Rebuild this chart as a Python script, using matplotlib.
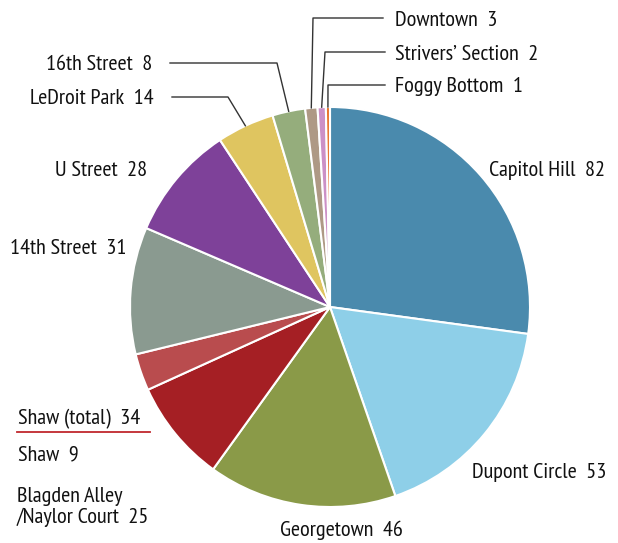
import numpy as np
import matplotlib
matplotlib.use("Agg")
from matplotlib import pyplot as plt

plt.rcParams['font.family'] = ['PT Sans Narrow', 'DejaVu Sans']

# data, clockwise from 12 o'clock
names = ["Capitol Hill", "Dupont Circle", "Georgetown", "Blagden Alley\n/Naylor Court", "Shaw",
         "14th Street", "U Street", "LeDroit Park", "16th Street", "Downtown",
         "Strivers\u2019 Section", "Foggy Bottom"]
counts = [82, 53, 46, 25, 9, 31, 28, 14, 8, 3, 2, 1]
colors = ["#4a8aad", "#8ecfe8", "#8a9a48", "#a51f24", "#b94c4e", "#8a9a90",
          "#7e4199", "#dfc560", "#95ad7c", "#ae9985", "#cc90c6", "#e8742a"]
shaw_total = 34

W, H = 618, 543
cx, cy, r = 330, 307, 200

def Y(y):
    return H - y

fig = plt.figure(figsize=(W / 100, H / 100), dpi=100)
ax = fig.add_axes([0, 0, 1, 1])
ax.pie(counts, colors=colors, startangle=90, counterclock=False,
       center=(cx, Y(cy)), radius=r,
       wedgeprops=dict(edgecolor="white", linewidth=1.5))
ax.set_xlim(0, W)
ax.set_ylim(0, H)
ax.set_aspect("equal")
ax.axis("off")

fs = 16
tc = "#111111"
dy = 2  # small nudge down for the text baseline

# label positions (pixel coords, left aligned, vertical centre)
label_pos = {
    0: (489, 168),
    1: (472, 470),
    2: (280, 528),
    3: (17, 505),
    4: (18, 453),
    5: (10, 246),
    6: (55, 168),
    7: (30, 97),
    8: (46, 63),
    9: (395, 19),
    10: (395, 52),
    11: (395, 84),
}
for i, (x, y) in label_pos.items():
    ax.text(x, Y(y + dy), f"{names[i]}  {counts[i]}", fontsize=fs, color=tc,
            ha="left", va="center", linespacing=1.05)

ax.text(18, Y(417 + dy), f"Shaw (total)  {shaw_total}", fontsize=fs, color=tc,
        ha="left", va="center")
ax.plot([17, 150], [Y(432), Y(432)], color="#c0272d", lw=1.3)

# leader lines for the small slices
total = sum(counts)
cum = np.cumsum([0] + counts)
leaders = {
    7: [(172, 97), (228, 97)],
    8: [(170, 63), (277, 63)],
    9: [(383, 18), (313, 18)],
    10: [(385, 52), (325, 52)],
    11: [(385, 85), (328, 85)],
}
for i, pts in leaders.items():
    mid = (cum[i] + counts[i] / 2) / total * 2 * np.pi
    ex = cx + r * np.sin(mid)
    ey = cy - r * np.cos(mid)
    xs = [p[0] for p in pts] + [ex]
    ys = [Y(p[1]) for p in pts] + [Y(ey)]
    ax.plot(xs, ys, color="#333333", lw=1.0)

fig.savefig("out.png", dpi=100)
